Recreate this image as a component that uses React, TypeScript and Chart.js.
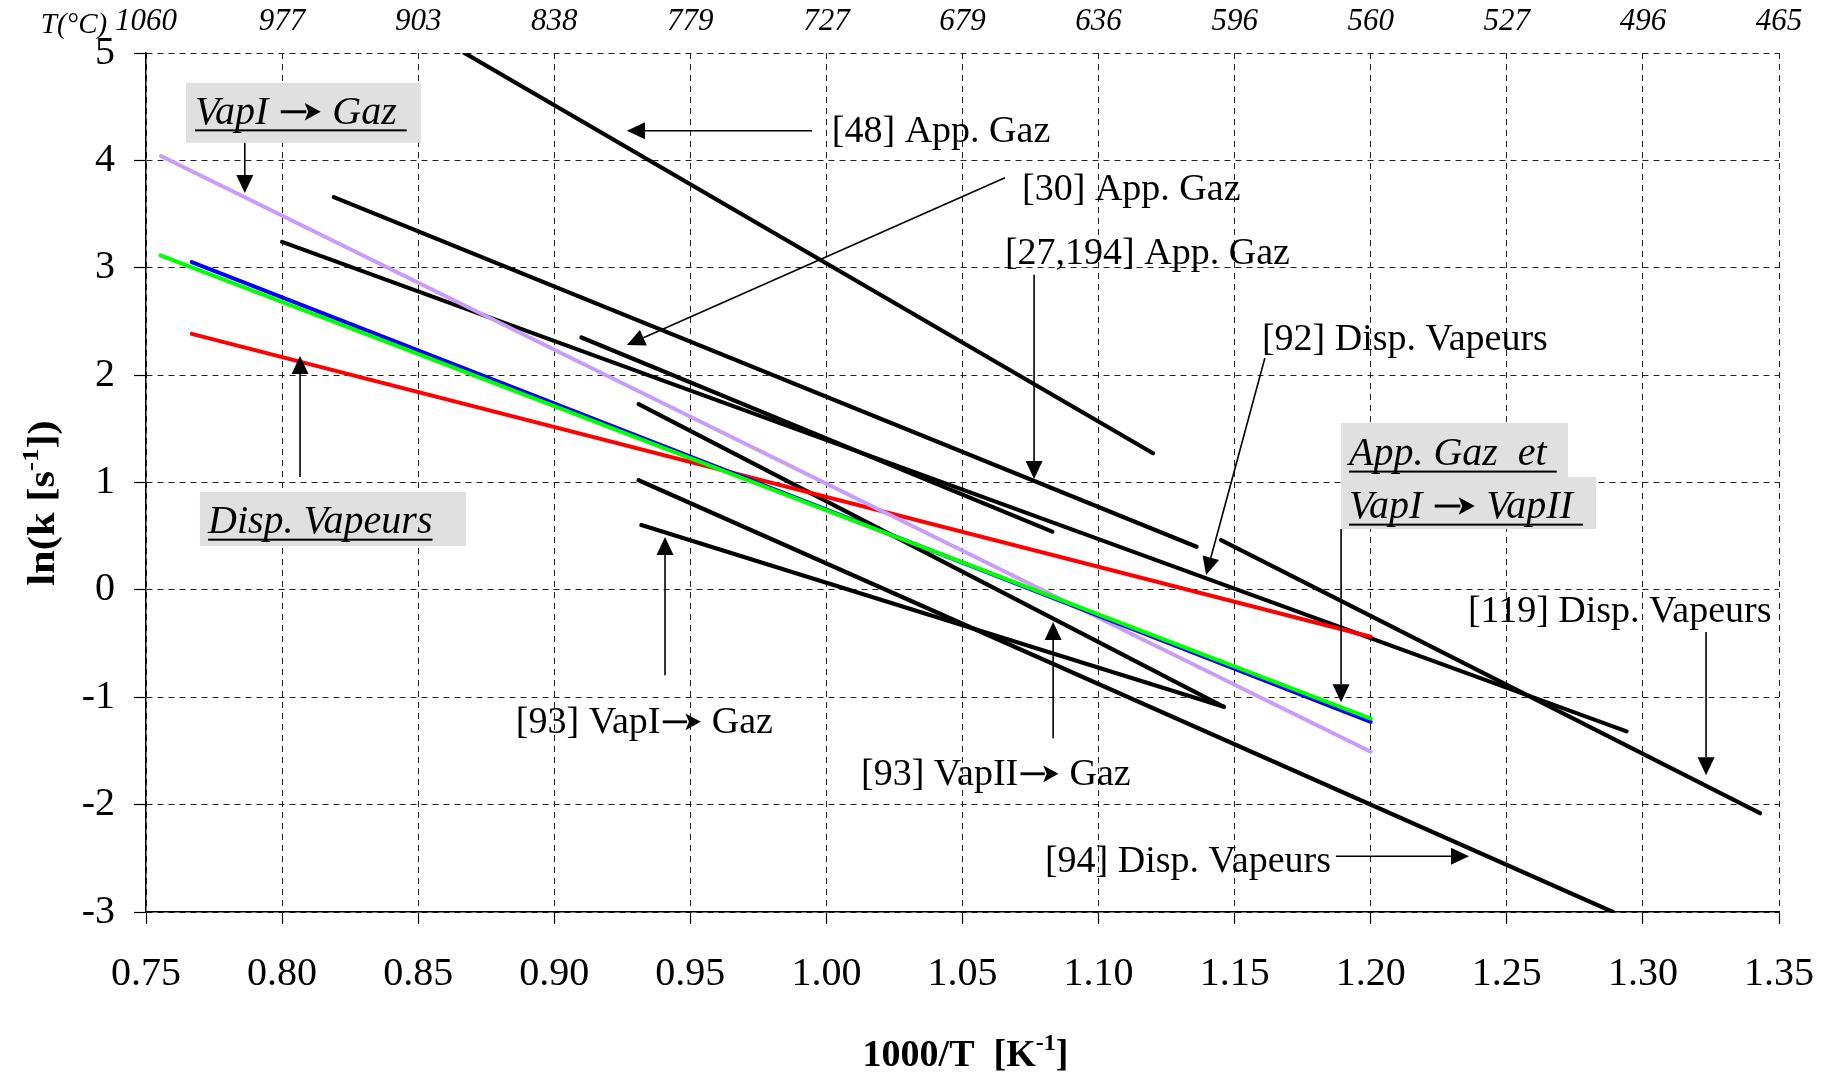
import React, { useEffect, useRef } from 'react';
import { Chart, registerables } from 'chart.js';

Chart.register(...registerables);

const SERIF = '"Liberation Serif", "Times New Roman", Times, serif';

// ---- axes ----
const X_MIN = 0.75;
const X_MAX = 1.35;
const X_STEP = 0.05;
const Y_MIN = -3;
const Y_MAX = 5;
const Y_STEP = 1;
const TOP_TEMPS_C = ['1060', '977', '903', '838', '779', '727', '679', '636', '596', '560', '527', '496', '465'];

// ---- series (1000/T, ln k) ----
const L48_X = [0.867, 1.12];
const L48_Y = [5.0, 1.272];
const L27_X = [0.819, 1.136];
const L27_Y = [3.658, 0.402];
const L92_X = [0.8, 1.294];
const L92_Y = [3.241, -1.318];
const L30_X = [0.91, 1.083];
const L30_Y = [2.35, 0.542];
const L119_X = [1.145, 1.343];
const L119_Y = [0.464, -2.08];
const L93B_X = [0.931, 1.146];
const L93B_Y = [1.729, -1.089];
const L94_X = [0.931, 1.289];
const L94_Y = [1.021, -3.0];
const L93A_X = [0.932, 1.146];
const L93A_Y = [0.604, -1.089];
const LAV_X = [0.7555, 1.2];
const LAV_Y = [4.04, -1.507];
const GREEN_X = [0.7553, 1.2];
const GREEN_Y = [3.115, -1.198];
const BLUE_X = [0.7668, 1.2];
const BLUE_Y = [3.052, -1.229];
const RED_X = [0.7668, 1.2];
const RED_Y = [2.384, -0.437];

// ---- annotations (in data units) ----
const BOXES = [
  { x1: 0.7647, y1: 4.723, x2: 0.851, y2: 4.164 },
  { x1: 0.7698, y1: 0.911, x2: 0.8676, y2: 0.408 },
  { x1: 1.1891, y1: 1.555, x2: 1.2725, y2: 1.051 },
  { x1: 1.1891, y1: 1.051, x2: 1.2828, y2: 0.567 },
];
const BOX_LABELS = [
  { text: 'VapI → Gaz ', x: 0.768, y: 4.341 },
  { text: 'Disp. Vapeurs', x: 0.7728, y: 0.529 },
  { text: 'App. Gaz  et ', x: 1.192, y: 1.163 },
  { text: 'VapI → VapII ', x: 1.192, y: 0.669 },
];
const NOTE_LABELS = [
  { text: '[48] App. Gaz', x: 1.002, y: 4.173 },
  { text: '[30] App. Gaz', x: 1.0719, y: 3.633 },
  { text: '[27,194] App. Gaz', x: 1.0656, y: 3.036 },
  { text: '[92] Disp. Vapeurs', x: 1.16, y: 2.23 },
  { text: '[119] Disp. Vapeurs', x: 1.2357, y: -0.3 },
  { text: '[93] VapI→ Gaz', x: 0.8859, y: -1.335 },
  { text: '[93] VapII→ Gaz', x: 1.0127, y: -1.819 },
  { text: '[94] Disp. Vapeurs', x: 1.0803, y: -2.63 },
];
const ARROWS = [
  { x1: 0.7863, y1: 4.164, x2: 0.7863, y2: 3.695 },
  { x1: 0.8066, y1: 1.051, x2: 0.8066, y2: 2.179 },
  { x1: 0.9947, y1: 4.276, x2: 0.9267, y2: 4.276 },
  { x1: 1.0656, y1: 3.838, x2: 0.9267, y2: 2.281 },
  { x1: 1.0763, y1: 2.934, x2: 1.0763, y2: 1.033 },
  { x1: 1.1611, y1: 2.16, x2: 1.1395, y2: 0.138 },
  { x1: 1.1891, y1: 0.567, x2: 1.1891, y2: -1.046 },
  { x1: 1.3232, y1: -0.393, x2: 1.3232, y2: -1.726 },
  { x1: 0.9407, y1: -0.794, x2: 0.9407, y2: 0.492 },
  { x1: 1.0833, y1: -1.381, x2: 1.0833, y2: -0.3 },
  { x1: 1.1872, y1: -2.481, x2: 1.2361, y2: -2.481 },
];

function pts(xs: number[], ys: number[]) {
  return xs.map((x, i) => ({ x, y: ys[i] }));
}

function drawArrow(ctx: CanvasRenderingContext2D, x1: number, y1: number, x2: number, y2: number) {
  const a = Math.atan2(y2 - y1, x2 - x1);
  const L = 18;
  const W = 8.5;
  const bx = x2 - Math.cos(a) * L;
  const by = y2 - Math.sin(a) * L;
  ctx.save();
  ctx.strokeStyle = '#000';
  ctx.fillStyle = '#000';
  ctx.lineWidth = 1.6;
  ctx.beginPath();
  ctx.moveTo(x1, y1);
  ctx.lineTo(bx, by);
  ctx.stroke();
  ctx.beginPath();
  ctx.moveTo(x2, y2);
  ctx.lineTo(bx + Math.sin(a) * W, by - Math.cos(a) * W);
  ctx.lineTo(bx - Math.sin(a) * W, by + Math.cos(a) * W);
  ctx.closePath();
  ctx.fill();
  ctx.restore();
}

function drawRich(
  ctx: CanvasRenderingContext2D,
  x: number,
  y: number,
  text: string,
  size: number,
  style: string,
  underline: boolean
) {
  ctx.save();
  ctx.font = `${style} ${size}px ${SERIF}`;
  ctx.fillStyle = '#000';
  ctx.strokeStyle = '#000';
  ctx.textAlign = 'left';
  ctx.textBaseline = 'alphabetic';
  const parts = text.split('→');
  let cx = x;
  parts.forEach((p, i) => {
    if (i > 0) {
      const w = size * 1.1;
      const my = y - size * 0.3;
      const head = size * 0.4;
      ctx.lineWidth = size * 0.075;
      ctx.beginPath();
      ctx.moveTo(cx + size * 0.06, my);
      ctx.lineTo(cx + w - head, my);
      ctx.stroke();
      const tip = cx + w - size * 0.04;
      ctx.beginPath();
      ctx.moveTo(tip, my);
      ctx.lineTo(tip - head, my - size * 0.22);
      ctx.lineTo(tip - head + size * 0.09, my);
      ctx.lineTo(tip - head, my + size * 0.22);
      ctx.closePath();
      ctx.fill();
      cx += w;
    }
    ctx.fillText(p, cx, y);
    cx += ctx.measureText(p).width;
  });
  if (underline) ctx.fillRect(x, y + size * 0.14, cx - x, 2);
  ctx.restore();
}

function drawSupTitle(
  ctx: CanvasRenderingContext2D,
  cx: number,
  cy: number,
  before: string,
  sup: string,
  after: string,
  size: number,
  rotate: boolean,
  stretch: number
) {
  ctx.save();
  ctx.translate(cx, cy);
  if (rotate) ctx.rotate(-Math.PI / 2);
  ctx.scale(stretch, 1);
  ctx.fillStyle = '#000';
  ctx.textBaseline = 'alphabetic';
  ctx.textAlign = 'left';
  const main = `bold ${size}px ${SERIF}`;
  const small = `bold ${Math.round(size * 0.62)}px ${SERIF}`;
  ctx.font = main;
  const w1 = ctx.measureText(before).width;
  const w3 = ctx.measureText(after).width;
  ctx.font = small;
  const w2 = ctx.measureText(sup).width;
  const total = w1 + w2 + w3;
  let x = -total / 2;
  ctx.font = main;
  ctx.fillText(before, x, 0);
  x += w1;
  ctx.font = small;
  ctx.fillText(sup, x, -size * 0.42);
  x += w2;
  ctx.font = main;
  ctx.fillText(after, x, 0);
  ctx.restore();
}

const annotationPlugin = {
  id: 'kineticsAnnotations',
  beforeDatasetsDraw(chart: any) {
    const { ctx } = chart;
    const xs = chart.scales.x;
    const ys = chart.scales.y;
    ctx.save();
    ctx.fillStyle = '#e0e0e0';
    BOXES.forEach((b) => {
      const x1 = xs.getPixelForValue(b.x1);
      const x2 = xs.getPixelForValue(b.x2);
      const y1 = ys.getPixelForValue(b.y1);
      const y2 = ys.getPixelForValue(b.y2);
      ctx.fillRect(x1, y1, x2 - x1, y2 - y1);
    });
    ctx.restore();
  },
  afterDraw(chart: any) {
    const { ctx, chartArea } = chart;
    const xs = chart.scales.x;
    const ys = chart.scales.y;
    BOX_LABELS.forEach((l) => {
      drawRich(ctx, xs.getPixelForValue(l.x), ys.getPixelForValue(l.y), l.text, 40, 'italic', true);
    });
    NOTE_LABELS.forEach((l) => {
      drawRich(ctx, xs.getPixelForValue(l.x), ys.getPixelForValue(l.y), l.text, 38, 'normal', false);
    });
    ARROWS.forEach((a) => {
      drawArrow(
        ctx,
        xs.getPixelForValue(a.x1),
        ys.getPixelForValue(a.y1),
        xs.getPixelForValue(a.x2),
        ys.getPixelForValue(a.y2)
      );
    });
    // T(°C) label of the top axis
    ctx.save();
    ctx.font = `italic 29px ${SERIF}`;
    ctx.fillStyle = '#000';
    ctx.textAlign = 'center';
    ctx.textBaseline = 'alphabetic';
    ctx.fillText('T(°C)', 74, 33);
    ctx.restore();
    // axis titles
    drawSupTitle(ctx, (chartArea.left + chartArea.right) / 2 + 3, 1066, '1000/T  [K', '-1', ']', 38, false, 1);
    drawSupTitle(ctx, 54, 503, 'ln(k [s', '-1', '])', 38, true, 1.12);
  },
};

const noSidePadding = (h: number) => (s: any) => {
  s.height = h;
  s.paddingLeft = 0;
  s.paddingRight = 0;
};

export default function App() {
  const canvasRef = useRef<HTMLCanvasElement | null>(null);

  useEffect(() => {
    const canvas = canvasRef.current;
    if (!canvas) return;
    const black = (xs: number[], ys: number[]) => ({
      data: pts(xs, ys),
      borderColor: '#000',
      backgroundColor: '#000',
      borderWidth: 4.2,
      showLine: true,
      pointRadius: 0,
      pointHoverRadius: 0,
      borderCapStyle: 'round',
      fill: false,
      tension: 0,
    });
    const colored = (xs: number[], ys: number[], c: string) => ({
      data: pts(xs, ys),
      borderColor: c,
      backgroundColor: c,
      borderWidth: 4,
      showLine: true,
      pointRadius: 0,
      pointHoverRadius: 0,
      borderCapStyle: 'round',
      fill: false,
      tension: 0,
    });

    const tickFont = { family: SERIF, size: 40 };
    const chart = new Chart(canvas, {
      type: 'scatter',
      data: {
        datasets: [
          colored(GREEN_X, GREEN_Y, '#00ff00'),
          colored(BLUE_X, BLUE_Y, '#0000ff'),
          colored(LAV_X, LAV_Y, '#c99cf7'),
          colored(RED_X, RED_Y, '#ff0000'),
          black(L48_X, L48_Y),
          black(L27_X, L27_Y),
          black(L92_X, L92_Y),
          black(L30_X, L30_Y),
          black(L119_X, L119_Y),
          black(L93B_X, L93B_Y),
          black(L94_X, L94_Y),
          black(L93A_X, L93A_Y),
        ] as any,
      },
      options: {
        responsive: false,
        devicePixelRatio: 1,
        animation: false,
        events: [],
        layout: { padding: { left: 0, right: 53, top: 0, bottom: 0 } },
        plugins: {
          legend: { display: false },
          tooltip: { enabled: false },
        },
        scales: {
          x: {
            type: 'linear',
            position: 'bottom',
            min: X_MIN,
            max: X_MAX,
            ticks: {
              stepSize: X_STEP,
              autoSkip: false,
              maxRotation: 0,
              color: '#000',
              font: tickFont,
              padding: 26,
              callback: (v: any) => Number(v).toFixed(2),
            },
            grid: {
              color: '#222',
              lineWidth: 1,
              drawTicks: true,
              tickLength: 12,
              tickColor: '#000',
              tickWidth: 1.2,
              tickBorderDash: [],
            },
            border: { display: true, color: '#000', width: 1.5, dash: [6, 5] },
            afterFit: noSidePadding(165),
          },
          xTop: {
            type: 'linear',
            position: 'top',
            min: X_MIN,
            max: X_MAX,
            ticks: {
              stepSize: X_STEP,
              autoSkip: false,
              maxRotation: 0,
              color: '#000',
              font: { family: SERIF, size: 31, style: 'italic' },
              padding: 13,
              callback: (v: any) => TOP_TEMPS_C[Math.round((Number(v) - X_MIN) / X_STEP)] ?? '',
            },
            grid: { display: false, drawTicks: false },
            border: { display: false },
            afterFit: noSidePadding(53),
          },
          y: {
            type: 'linear',
            min: Y_MIN,
            max: Y_MAX,
            ticks: {
              stepSize: Y_STEP,
              color: '#000',
              font: tickFont,
              padding: 19,
              callback: (v: any) => String(v),
            },
            grid: {
              color: '#222',
              lineWidth: 1,
              drawTicks: true,
              tickLength: 12,
              tickColor: '#000',
              tickWidth: 1.2,
              tickBorderDash: [],
            },
            border: { display: true, color: '#000', width: 1.5, dash: [6, 5] },
            afterFit: (s: any) => {
              s.width = 146;
              s.paddingTop = 0;
              s.paddingBottom = 0;
            },
          },
        },
      } as any,
      plugins: [annotationPlugin],
    });
    return () => chart.destroy();
  }, []);

  return (
    <div style={{ position: 'fixed', left: 0, top: 0, width: 1832, height: 1077, background: '#fff' }}>
      <canvas ref={canvasRef} width={1832} height={1077} style={{ display: 'block', width: 1832, height: 1077 }} />
    </div>
  );
}
